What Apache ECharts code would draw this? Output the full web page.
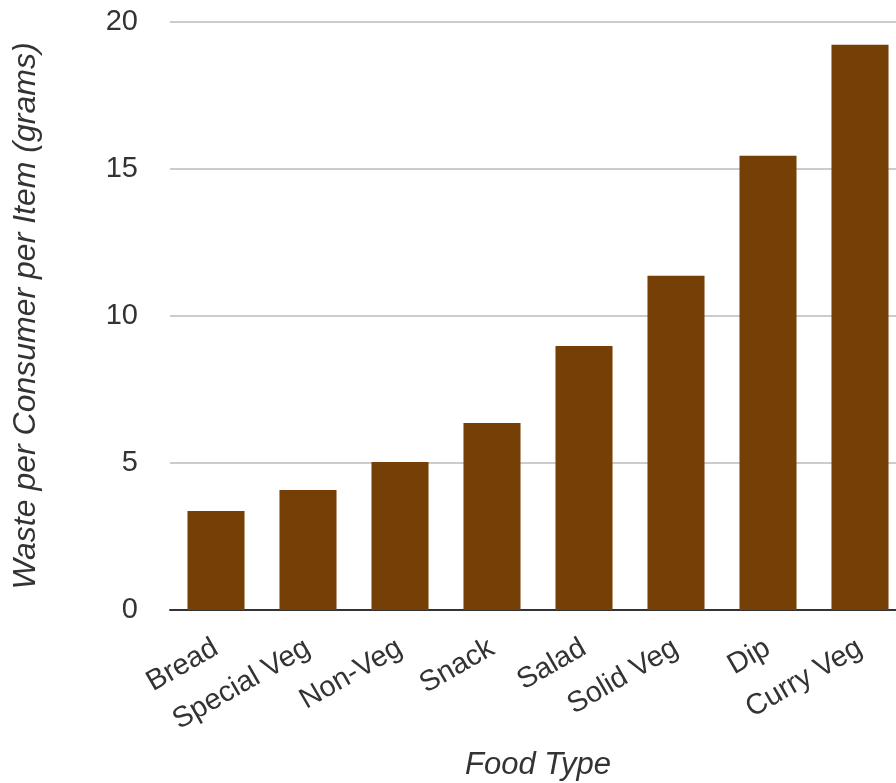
<!DOCTYPE html>
<html><head><meta charset="utf-8">
<script src="https://cdn.jsdelivr.net/npm/echarts@6/dist/echarts.min.js"></script>
<style>html,body{margin:0;padding:0;background:#fff}#c{width:896px;height:783px}</style>
</head><body><div id="c"></div>
<script>
const categories = ["Bread","Special Veg","Non-Veg","Snack","Salad","Solid Veg","Dip","Curry Veg"];
const wasteGrams = [3.37, 4.08, 5.03, 6.36, 8.98, 11.37, 15.45, 19.23];
const yTicks = [0, 5, 10, 15, 20];
const FONT = '"Liberation Sans", Arial, sans-serif';
const chart = echarts.init(document.getElementById('c'), null, {renderer:'canvas'});
chart.setOption({
  animation:false,
  grid:{left:170, top:22, width:736, height:588, containLabel:false, outerBoundsMode:'none'},
  xAxis:{
    type:'category', data:categories,
    name:'Food Type', nameLocation:'middle', nameGap:140,
    nameTextStyle:{fontFamily:FONT, fontSize:31, fontStyle:'italic', color:'#333'},
    axisLine:{lineStyle:{color:'#333', width:2}},
    axisTick:{show:false},
    axisLabel:{rotate:30, margin:36, fontFamily:FONT, fontSize:29, color:'#333', interval:0}
  },
  yAxis:{
    type:'value', min:yTicks[0], max:yTicks[yTicks.length-1], interval:5,
    name:'Waste per Consumer per Item (grams)', nameLocation:'middle', nameGap:128,
    nameTextStyle:{fontFamily:FONT, fontSize:32, fontStyle:'italic', color:'#333'},
    axisLine:{show:false}, axisTick:{show:false},
    splitLine:{lineStyle:{color:'#cccccc', width:2}},
    axisLabel:{margin:32, fontFamily:FONT, fontSize:29, color:'#333'}
  },
  series:[{
    type:'bar', data:wasteGrams, barCategoryGap:'38%',
    itemStyle:{color:'#763f05'}
  }]
});
</script></body></html>
